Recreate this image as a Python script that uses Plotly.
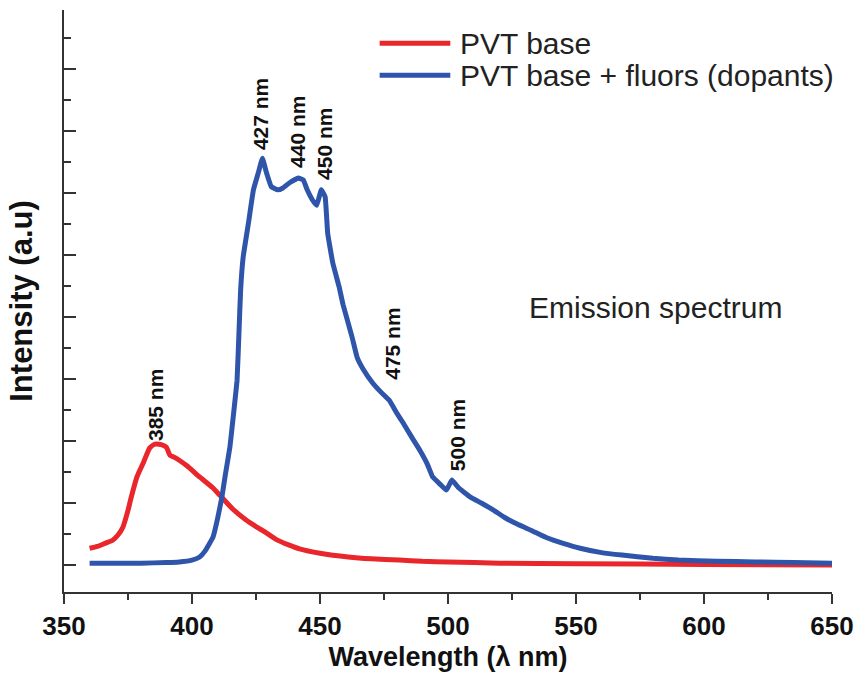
import plotly.graph_objects as go

# ---- data ----
red_wl = [360, 363, 366, 369, 371, 373, 375, 376, 378.5, 381, 383.5, 385.5, 388, 390, 391.4,
          393, 395, 398, 403, 408, 411, 416, 421, 425, 429, 433, 438, 442, 450, 461, 470, 481,
          490, 500, 520, 550, 600, 650]
red_int = [0.27, 0.30, 0.35, 0.40, 0.48, 0.61, 0.88, 1.05, 1.42, 1.65, 1.89, 1.95, 1.94, 1.90, 1.77,
           1.74, 1.69, 1.60, 1.42, 1.25, 1.12, 0.90, 0.73, 0.62, 0.52, 0.41, 0.32, 0.26, 0.19, 0.13, 0.10, 0.08,
           0.06, 0.05, 0.03, 0.02, 0.01, 0.0]

blue_wl = [360, 380, 390, 395, 400, 403, 405, 408.2, 410, 411.7, 413, 414.8, 416, 417.6, 418.3, 419, 420, 422,
           424, 426, 427.5, 429, 431, 433.5, 435.5, 438, 441.5, 443.5, 445, 447, 448.7, 450.5,
           452, 453, 455, 457.5, 459, 462.5, 464.5, 467, 470.5, 474, 477, 480, 482.5, 486, 489,
           492, 494, 497, 499.4, 501.5, 504, 508.6, 513, 517.6, 522, 527, 533, 538.6, 545, 551.6,
           560, 568, 580, 590, 605, 620, 635, 650]
blue_int = [0.03, 0.03, 0.04, 0.05, 0.08, 0.13, 0.22, 0.45, 0.75, 1.10, 1.45, 1.90, 2.35, 2.98, 3.70, 4.44, 4.97, 5.50,
            6.05, 6.34, 6.56, 6.34, 6.10, 6.05, 6.08, 6.16, 6.24, 6.21, 6.05, 5.89, 5.80, 6.05,
            5.94, 5.35, 4.87, 4.48, 4.20, 3.68, 3.35, 3.15, 2.94, 2.78, 2.66, 2.45, 2.29, 2.05, 1.85,
            1.62, 1.42, 1.30, 1.21, 1.37, 1.25, 1.10, 1.00, 0.89, 0.77, 0.66, 0.55, 0.44, 0.35, 0.27,
            0.20, 0.16, 0.11, 0.08, 0.06, 0.05, 0.04, 0.03]

series_names = ["PVT base", "PVT base + fluors (dopants)"]
series_colors = ["#e8262b", "#2f55aa"]

peak_labels = ["385 nm", "427 nm", "440 nm", "450 nm", "475 nm", "500 nm"]
peak_x = [386, 426.6, 441, 452, 478, 503.5]
peak_y = [1.97, 6.66, 6.37, 6.18, 2.95, 1.48]

x_ticks = [350, 400, 450, 500, 550, 600, 650]

FONT = "Liberation Sans, Arial"

fig = go.Figure()
fig.add_trace(go.Scatter(x=red_wl, y=red_int, mode="lines", name=series_names[0],
                         line=dict(color=series_colors[0], width=5, shape="spline", smoothing=0.5),
                         showlegend=False))
fig.add_trace(go.Scatter(x=blue_wl, y=blue_int, mode="lines", name=series_names[1],
                         line=dict(color=series_colors[1], width=5, shape="spline", smoothing=0.3),
                         showlegend=False))

for lab, px, py in zip(peak_labels, peak_x, peak_y):
    fig.add_annotation(x=px, y=py, text=f"<b>{lab}</b>", textangle=-90, showarrow=False,
                       xanchor="center", yanchor="bottom",
                       font=dict(family=FONT, size=21, color="#111111"))

fig.add_annotation(x=581, y=4.15, text="Emission spectrum", showarrow=False,
                   font=dict(family=FONT, size=30, color="#222222"))

# manual legend (long line samples as in the reference)
leg_y = [0.943, 0.888]
for name, col, ly in zip(series_names, series_colors, leg_y):
    fig.add_shape(type="line", xref="paper", yref="paper", x0=0.411, x1=0.503, y0=ly, y1=ly,
                  line=dict(color=col, width=5))
    fig.add_annotation(xref="paper", yref="paper", x=0.513, y=ly, text=name, showarrow=False,
                       xanchor="left", yanchor="middle",
                       font=dict(family=FONT, size=30, color="#222222"))

fig.update_layout(
    width=864, height=680,
    margin=dict(l=64, r=32, t=10, b=88),
    paper_bgcolor="white", plot_bgcolor="white",
    font=dict(family=FONT, color="#111111"),
    xaxis=dict(range=[350, 650], tickvals=x_ticks, ticktext=[f"<b>{v}</b>" for v in x_ticks],
               ticks="outside", ticklen=10, tickwidth=2, tickcolor="#333333",
               minor=dict(dtick=25, ticks="outside", ticklen=6, tickwidth=2, tickcolor="#333333"),
               showline=True, linecolor="#333333", linewidth=2, showgrid=False, zeroline=False,
               tickfont=dict(size=26, color="#111111"),
               title=dict(text="<b>Wavelength (λ nm)</b>", font=dict(size=27, color="#111111"), standoff=7)),
    yaxis=dict(range=[-0.435, 8.95], tick0=0, dtick=1, tickmode="linear",
               ticks="inside", ticklen=12, tickwidth=2, tickcolor="#333333",
               minor=dict(dtick=0.5, ticks="inside", ticklen=7, tickwidth=2, tickcolor="#333333"),
               showticklabels=False,
               showline=True, linecolor="#333333", linewidth=2, showgrid=False, zeroline=False,
               title=dict(text="<b>Intensity (a.u)</b>", font=dict(size=31, color="#111111"), standoff=20)),
)

fig.write_html("out.html")
